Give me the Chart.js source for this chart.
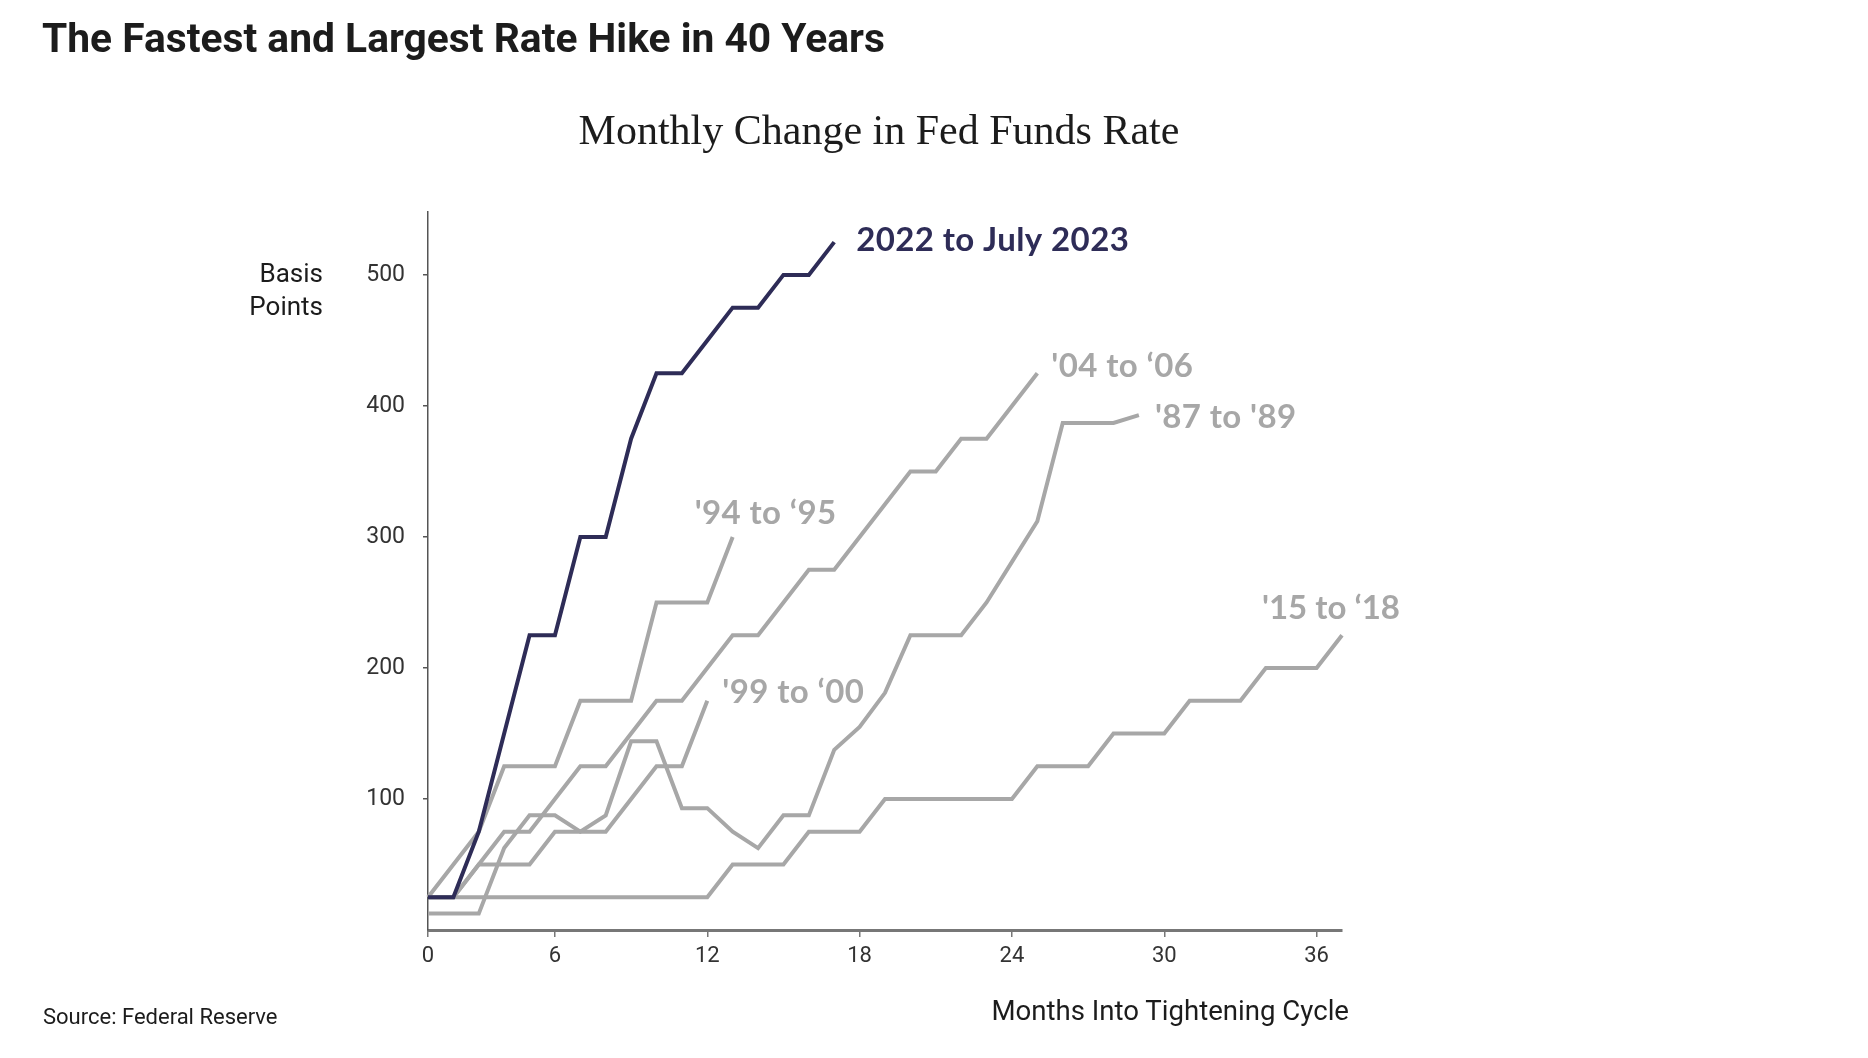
<!DOCTYPE html>
<html>
<head>
<meta charset="utf-8">
<script src="https://cdn.jsdelivr.net/npm/chart.js@4.4.0/dist/chart.umd.min.js"></script>
<style>
  body { margin: 0; background: #fff; }
  #page { position: relative; width: 1868px; height: 1058px; overflow: hidden; font-family: Roboto, sans-serif; }
  #chart { position: absolute; left: 0; top: 0; }
  .txt { position: absolute; white-space: nowrap; }
  #title { left: 42px; top: 18px; font: bold 41px/41px Roboto, sans-serif; color: #1c1c1c; transform-origin: 0 0; }
  #subtitle { left: 0; width: 1758px; text-align: center; top: 109px; font: 42px/42px "Liberation Serif", serif; color: #1c1c1c; }
  #unit { right: 1545px; top: 257px; text-align: right; font: 26px/33px Roboto, sans-serif; color: #1c1c1c; }
  #source { left: 43px; top: 1006px; font: 22px/22px Roboto, sans-serif; color: #1c1c1c; }
  #xname { right: 519px; top: 997px; font: 27.6px/27.6px Roboto, sans-serif; color: #1c1c1c; }
</style>
</head>
<body>
<div id="page">
  <canvas id="chart" width="1868" height="1058"></canvas>
  <div class="txt" id="title">The Fastest and Largest Rate Hike in 40 Years</div>
  <div class="txt" id="subtitle">Monthly Change in Fed Funds Rate</div>
  <div class="txt" id="unit">Basis<br>Points</div>
  <div class="txt" id="xname">Months Into Tightening Cycle</div>
  <div class="txt" id="source">Source: Federal Reserve</div>
</div>
<script>
// basis points above the starting rate, one value per month of each cycle
const cycle2022 = [25, 25, 75, 150, 225, 225, 300, 300, 375, 425, 425, 450, 475, 475, 500, 500, 525];
const cycle2004 = [25, 25, 50, 75, 75, 100, 125, 125, 150, 175, 175, 200, 225, 225, 250, 275, 275, 300, 325, 350, 350, 375, 375, 400, 425];
const cycle1987 = [12.5, 12.5, 12.5, 62.5, 87.5, 87.5, 75, 87.5, 144, 144, 93, 93, 75, 62.5, 87.5, 87.5, 137.5, 155, 181, 225, 225, 225, 250, 281, 312, 387, 387, 387, 393];
const cycle1994 = [25, 50, 75, 125, 125, 125, 175, 175, 175, 250, 250, 250, 300];
const cycle1999 = [25, 25, 50, 50, 50, 75, 75, 75, 100, 125, 125, 175];
const cycle2015 = [25, 25, 25, 25, 25, 25, 25, 25, 25, 25, 25, 25, 50, 50, 50, 75, 75, 75, 100, 100, 100, 100, 100, 100, 125, 125, 125, 150, 150, 150, 175, 175, 175, 200, 200, 200, 225];

const seriesNames = ['2022 to July 2023', "'04 to \u201806", "'87 to '89", "'94 to \u201895", "'99 to \u201800", "'15 to \u201818"];
const xTickAt = [0, 5, 11, 17, 23, 29, 35];
const xTickLabels = ['0', '6', '12', '18', '24', '30', '36'];
const yTicks = [100, 200, 300, 400, 500];

const navy = '#2e2c57';
const grey = '#a7a7a7';
// where each name sits relative to the last point of its line
const nameOffsets = [[22, 9], [14, 4], [16, 13], [-38, -13], [15, 2], [-80, -16]];

// the title face in the original is a condensed one, squeeze it to the same width
const titleEl = document.getElementById('title');
titleEl.style.transform = 'scaleX(' + (843 / titleEl.getBoundingClientRect().width) + ')';

function toPoints(arr) {
	return arr.map((v, i) => ({ x: i, y: v }));
}

const seriesData = [cycle2022, cycle2004, cycle1987, cycle1994, cycle1999, cycle2015];

const endLabels = {
	id: 'endLabels',
	afterDatasetsDraw(chart) {
		const ctx = chart.ctx;
		ctx.save();
		ctx.font = 'bold 33px Lato, "Open Sans", sans-serif';
		ctx.textBaseline = 'alphabetic';
		ctx.textAlign = 'left';
		chart.data.datasets.forEach((ds, i) => {
			const meta = chart.getDatasetMeta(i);
			const last = meta.data[meta.data.length - 1];
			ctx.fillStyle = ds.borderColor;
			ctx.letterSpacing = i === 5 ? '0px' : '0.4px';
			ctx.fillText(seriesNames[i], last.x + nameOffsets[i][0], last.y + nameOffsets[i][1]);
		});
		ctx.restore();
	}
};

const config = {
	type: 'line',
	data: {
		datasets: seriesData.map((arr, i) => ({
			label: seriesNames[i],
			data: toPoints(arr),
			borderColor: i === 0 ? navy : grey,
			borderWidth: 4,
			pointRadius: 0,
			tension: 0,
			clip: false,
			order: i === 0 ? 0 : 1
		}))
	},
	options: {
		responsive: false,
		animation: false,
		devicePixelRatio: 1,
		layout: { padding: { left: 0, right: 526, top: 212, bottom: 0 } },
		plugins: { legend: { display: false }, tooltip: { enabled: false } },
		scales: {
			x: {
				type: 'linear',
				min: 0,
				max: 36,
				afterBuildTicks: s => { s.ticks = xTickAt.map(v => ({ value: v })); },
				afterFit: s => { s.height = 128; },
				grid: { drawOnChartArea: false, tickLength: 7, color: '#777', lineWidth: 1.5 },
				border: { color: '#777', width: 3 },
				ticks: {
					autoSkip: false,
					maxRotation: 0,
					padding: 6,
					color: '#333',
					font: { family: 'Roboto', size: 22 },
					callback: v => xTickLabels[xTickAt.indexOf(v)]
				}
			},
			y: {
				min: 0,
				max: 548,
				afterBuildTicks: s => { s.ticks = yTicks.map(v => ({ value: v })); },
				afterFit: s => { s.width = 428; },
				grid: { drawOnChartArea: false, tickLength: 5, color: '#555', lineWidth: 1.5 },
				border: { color: '#555', width: 1.5 },
				ticks: { padding: 18, color: '#333', font: { family: 'Roboto', size: 23 } }
			}
		}
	},
	plugins: [endLabels]
};

new Chart(document.getElementById('chart').getContext('2d'), config);
</script>
</body>
</html>
